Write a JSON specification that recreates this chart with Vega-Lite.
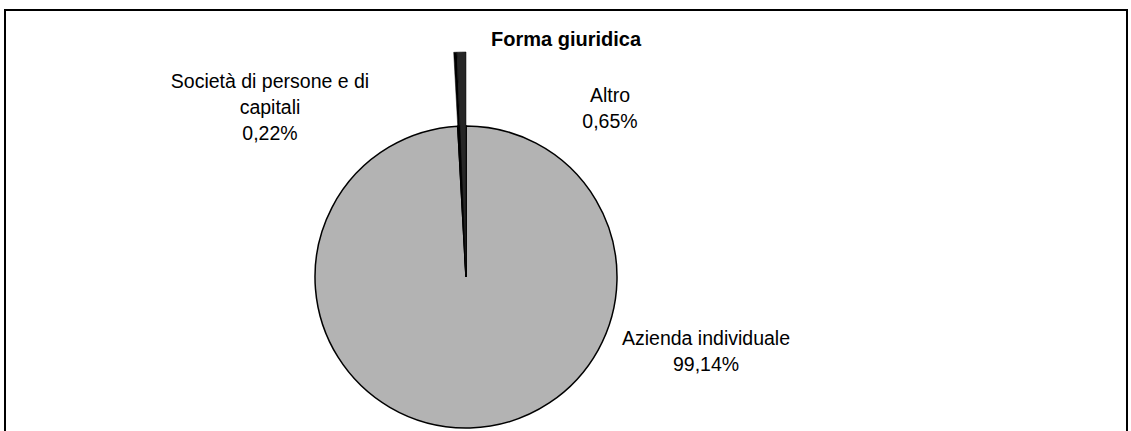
{
  "$schema": "https://vega.github.io/schema/vega-lite/v6.json",
  "width": 1122,
  "height": 430,
  "autosize": {"type": "none"},
  "padding": {"left": 5, "top": 10, "right": 4, "bottom": 0},
  "background": "white",
  "view": {"stroke": "black", "strokeWidth": 2, "fill": "white"},
  "config": {
    "view": {"stroke": "black", "strokeWidth": 2},
    "font": "Liberation Sans"
  },
  "title": {
    "text": "Forma giuridica",
    "anchor": "middle",
    "frame": "group",
    "offset": -56,
    "baseline": "alphabetic",
    "fontSize": 20,
    "fontWeight": "bold",
    "font": "Liberation Sans",
    "color": "black"
  },
  "data": {
    "values": [
      {"categoria": "Azienda individuale", "quota": 99.14, "ordine": 1, "etichetta": "Azienda individuale\n99,14%"},
      {"categoria": "Società di persone e di capitali", "quota": 0.22, "ordine": 2, "etichetta": "Società di persone e di\ncapitali\n0,22%"},
      {"categoria": "Altro", "quota": 0.65, "ordine": 3, "etichetta": "Altro\n0,65%"}
    ]
  },
  "layer": [
    {
      "mark": {"type": "arc", "radius": 151, "xOffset": -100, "yOffset": 52, "stroke": "black", "strokeWidth": 1.5},
      "encoding": {
        "theta": {"field": "quota", "type": "quantitative", "stack": true},
        "order": {"field": "ordine", "type": "quantitative"},
        "color": {
          "field": "categoria", "type": "nominal", "legend": null,
          "scale": {"domain": ["Azienda individuale", "Società di persone e di capitali", "Altro"], "range": ["#B3B3B3", "#000000", "#262626"]}
        }
      }
    },
    {
      "mark": {"type": "arc", "radius": 225, "xOffset": -100, "yOffset": 52, "stroke": "black", "strokeWidth": 0.5},
      "encoding": {
        "theta": {"field": "quota", "type": "quantitative", "stack": true},
        "order": {"field": "ordine", "type": "quantitative"},
        "color": {
          "field": "categoria", "type": "nominal", "legend": null,
          "scale": {"domain": ["Azienda individuale", "Società di persone e di capitali", "Altro"], "range": ["#B3B3B3", "#000000", "#262626"]}
        },
        "opacity": {"condition": {"test": "datum.categoria === 'Azienda individuale'", "value": 0}, "value": 1}
      }
    },
    {
      "transform": [{"filter": "datum.categoria === 'Azienda individuale'"}],
      "mark": {"type": "text", "dx": 140, "dy": 113.5, "align": "center", "baseline": "middle", "fontSize": 19.5, "lineHeight": 26, "lineBreak": "\n", "color": "black"},
      "encoding": {"text": {"field": "etichetta", "type": "nominal"}}
    },
    {
      "transform": [{"filter": "datum.categoria === 'Società di persone e di capitali'"}],
      "mark": {"type": "text", "dx": -296, "dy": -143, "align": "center", "baseline": "middle", "fontSize": 19.5, "lineHeight": 26, "lineBreak": "\n", "color": "black"},
      "encoding": {"text": {"field": "etichetta", "type": "nominal"}}
    },
    {
      "transform": [{"filter": "datum.categoria === 'Altro'"}],
      "mark": {"type": "text", "dx": 44, "dy": -129.5, "align": "center", "baseline": "middle", "fontSize": 19.5, "lineHeight": 26, "lineBreak": "\n", "color": "black"},
      "encoding": {"text": {"field": "etichetta", "type": "nominal"}}
    }
  ]
}
